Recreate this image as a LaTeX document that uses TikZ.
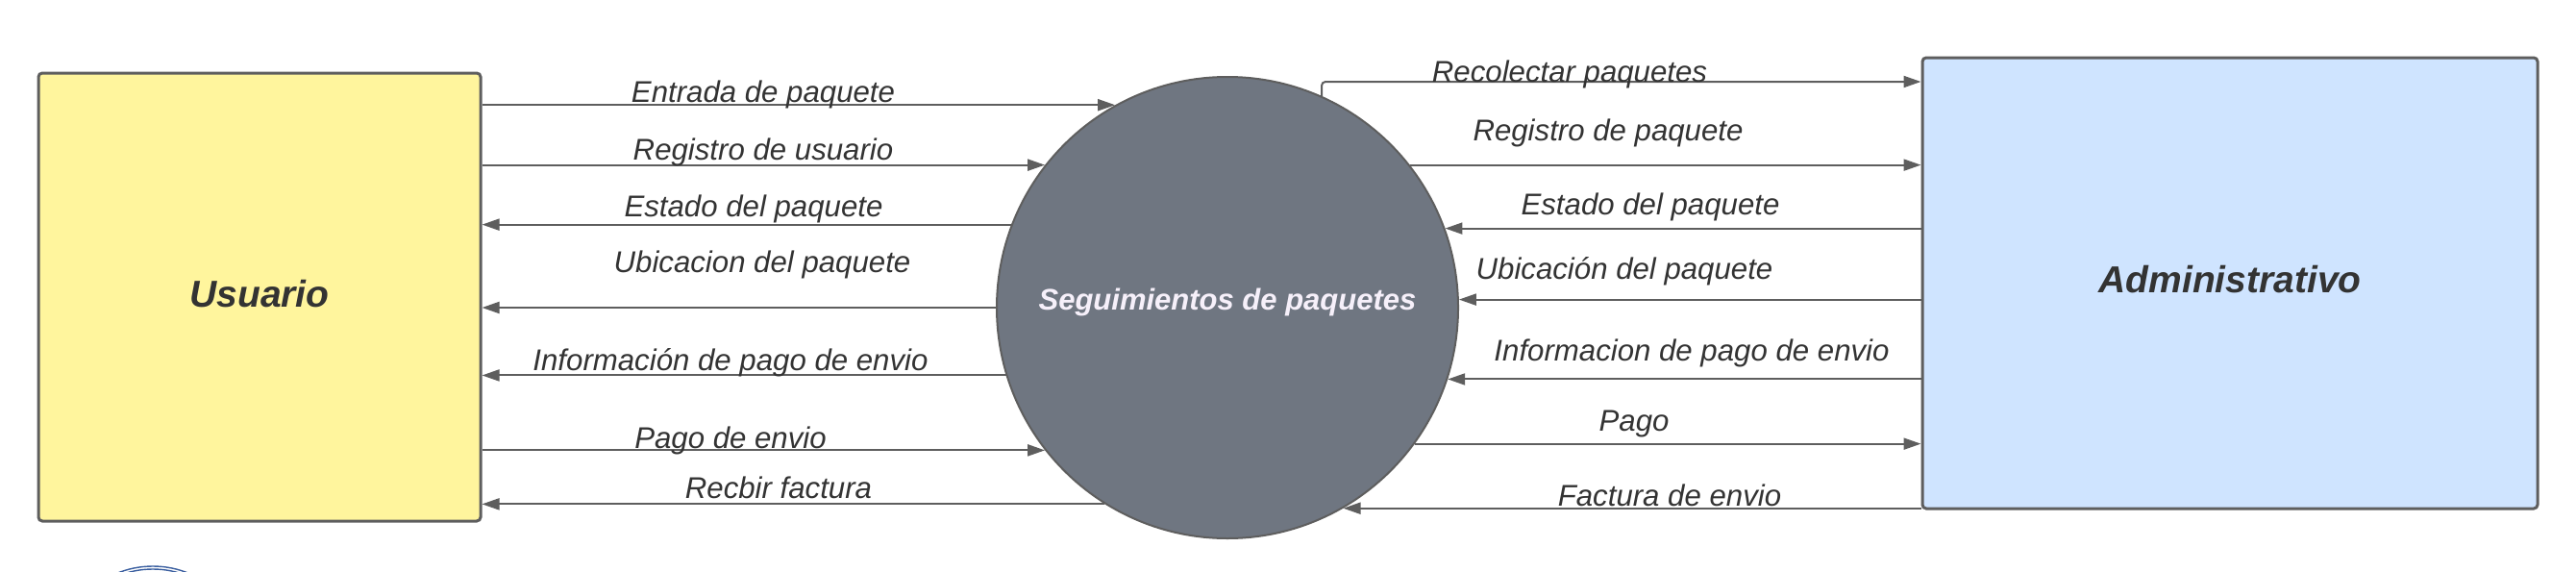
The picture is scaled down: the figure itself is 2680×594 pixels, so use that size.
\documentclass[tikz,border=0pt]{standalone}
\usepackage{fontspec}
\setmainfont{Liberation Sans}
\usetikzlibrary{arrows.meta}
\definecolor{linegray}{HTML}{5E5E5E}
\definecolor{txtgray}{HTML}{333333}
\definecolor{yelfill}{HTML}{FFF59D}
\definecolor{bluefill}{HTML}{CFE4FF}
\definecolor{circfill}{HTML}{6F7681}
\definecolor{circtxt}{HTML}{F6F0FA}
\definecolor{logoblue}{HTML}{3B5FA0}
\tikzset{
  entity/.style={draw=linegray, line width=1.5pt, rounded corners=2pt, inner sep=0pt,
    text=txtgray, font=\fontsize{19.5}{23}\selectfont\bfseries\itshape},
  process/.style={circle, draw=linegray, line width=1pt, fill=circfill, inner sep=0pt,
    minimum size=240pt, text=circtxt, font=\fontsize{15.5}{19}\selectfont\bfseries\itshape},
  flow/.style={draw=linegray, line width=1pt, -{Triangle[length=9pt,width=6pt]}},
  lbl/.style={anchor=base, inner sep=0pt, text=txtgray, font=\fontsize{15.6}{18}\selectfont\itshape},
  title/.style={inner sep=0pt}
}
\begin{document}
\begin{tikzpicture}[x=0.5pt, y=-0.5pt]
\useasboundingbox (0,0) rectangle (2680,594);
% entities
\node[entity, fill=yelfill, minimum width=230pt, minimum height=233pt] (usr) at (270,309) {};
\node[entity, fill=bluefill, minimum width=320pt, minimum height=234.5pt] (adm) at (2320,294.5) {};
\node[process] (proc) at (1277,320) {};
\node[title, text=txtgray, font=\fontsize{19.5}{23}\selectfont\bfseries\itshape] (usrt) at (270,306) {Usuario};
\node[title, text=txtgray, font=\fontsize{19.5}{23}\selectfont\bfseries\itshape] (admt) at (2320,291) {Administrativo};
\node[title, text=circtxt, font=\fontsize{15.5}{19}\selectfont\bfseries\itshape] (proct) at (1277,314) {Seguimientos de paquetes};
% helper coordinate for the top route
\coordinate (rtop) at (0,85);
% left side flows
\draw[flow] (usr.east |- proc.119.44) -- (proc.119.44);
\draw[flow] (usr.east |- proc.142.23) -- (proc.142.23);
\draw[flow] (proc.159.26) -- (usr.east |- proc.159.26);
\draw[flow] (proc.180) -- (usr.east |- proc.180);
\draw[flow] (proc.197.71) -- (usr.east |- proc.197.71);
\draw[flow] (usr.east |- proc.218.38) -- (proc.218.38);
\draw[flow] (proc.238.21) -- (usr.east |- proc.238.21);
% right side flows
\draw[flow, rounded corners=2pt] (proc.66.16) -- (proc.66.16 |- rtop) -- (adm.west |- rtop);
\draw[flow] (proc.38.07) -- (adm.west |- proc.38.07);
\draw[flow] (adm.west |- proc.20.23) -- (proc.20.23);
\draw[flow] (adm.west |- proc.2.15) -- (proc.2.15);
\draw[flow] (adm.west |- proc.-18.71) -- (proc.-18.71);
\draw[flow] (proc.-36.57) -- (adm.west |- proc.-36.57);
\draw[flow] (adm.west |- proc.-60.07) -- (proc.-60.07);
% left labels
\node[lbl] (l1) at (794,106) {Entrada de paquete};
\node[lbl] (l2) at (794,166) {Registro de usuario};
\node[lbl] (l3) at (784,225.5) {Estado del paquete};
\node[lbl] (l4) at (793,283) {Ubicacion del paquete};
\node[lbl] (l5) at (760,385.5) {Información de pago de envio};
\node[lbl] (l6) at (760,466) {Pago de envio};
\node[lbl] (l7) at (810,518) {Recbir factura};
% right labels
\node[lbl] (r1) at (1633,85) {Recolectar paquetes};
\node[lbl] (r2) at (1673,146) {Registro de paquete};
\node[lbl] (r3) at (1717,223) {Estado del paquete};
\node[lbl] (r4) at (1690,290) {Ubicación del paquete};
\node[lbl] (r5) at (1760,375) {Informacion de pago de envio};
\node[lbl] (r6) at (1700,448) {Pago};
\node[lbl] (r7) at (1737,526) {Factura de envio};
% partial logo at bottom edge
\begin{scope}
\clip (0,0) rectangle (2680,594);
\draw[logoblue, line width=0.7pt] (159,687.5) circle (98.5);
\draw[logoblue, line width=0.7pt] (159,687.5) circle (95.5);
\end{scope}
\end{tikzpicture}
\end{document}
